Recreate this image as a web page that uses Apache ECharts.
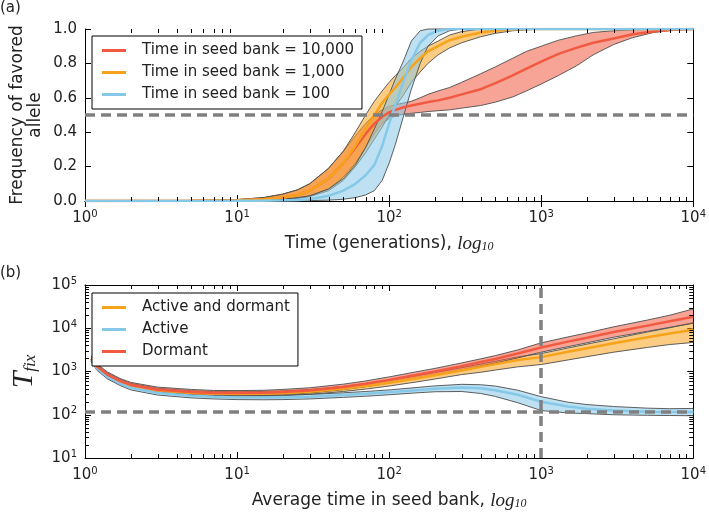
<!DOCTYPE html>
<html>
<head>
<meta charset="utf-8">
<script src="https://cdn.jsdelivr.net/npm/echarts@6/dist/echarts.min.js"></script>
<style>
  html, body { margin: 0; padding: 0; background: #fff; }
  #main { width: 709px; height: 513px; }
</style>
</head>
<body>
<div id="main"></div>
<script>
// ---- panel (a): frequency of favored allele vs time ----
const topX = [1, 5, 10, 15, 20, 25, 30, 40, 50, 60, 70, 80, 90, 100, 110, 125, 140, 160, 180, 210, 250, 300, 400, 500, 650, 800, 1000, 1300, 1700, 2200, 3000, 4000, 5500, 7500, 10000];

const bank10kMid = [0, 0.001, 0.004, 0.01, 0.02, 0.035, 0.06, 0.13, 0.22, 0.31, 0.39, 0.45, 0.49, 0.515, 0.53, 0.545, 0.555, 0.565, 0.575, 0.585, 0.6, 0.62, 0.65, 0.685, 0.73, 0.77, 0.81, 0.855, 0.89, 0.92, 0.945, 0.97, 0.985, 0.995, 1];
const bank10kHigh = [0, 0.002, 0.008, 0.02, 0.04, 0.065, 0.1, 0.19, 0.29, 0.38, 0.45, 0.5, 0.53, 0.55, 0.56, 0.57, 0.58, 0.6, 0.62, 0.64, 0.66, 0.69, 0.74, 0.78, 0.83, 0.87, 0.9, 0.935, 0.96, 0.98, 0.99, 0.995, 1, 1, 1];
const bank10kLow = [0, 0, 0.001, 0.004, 0.008, 0.015, 0.03, 0.07, 0.14, 0.22, 0.31, 0.39, 0.45, 0.48, 0.495, 0.505, 0.51, 0.515, 0.52, 0.525, 0.53, 0.54, 0.555, 0.575, 0.605, 0.64, 0.68, 0.73, 0.785, 0.85, 0.91, 0.95, 0.98, 0.995, 1];

const bank1kMid = [0, 0.001, 0.004, 0.01, 0.02, 0.035, 0.06, 0.13, 0.22, 0.32, 0.42, 0.5, 0.57, 0.62, 0.66, 0.72, 0.78, 0.83, 0.87, 0.9, 0.935, 0.955, 0.98, 0.99, 0.997, 1, 1, 1, 1, 1, 1, 1, 1, 1, 1];
const bank1kHigh = [0, 0.002, 0.008, 0.02, 0.04, 0.065, 0.1, 0.19, 0.29, 0.4, 0.5, 0.58, 0.64, 0.69, 0.73, 0.78, 0.83, 0.87, 0.9, 0.93, 0.965, 0.985, 1, 1, 1, 1, 1, 1, 1, 1, 1, 1, 1, 1, 1];
const bank1kLow = [0, 0, 0.001, 0.004, 0.008, 0.015, 0.025, 0.06, 0.12, 0.2, 0.28, 0.36, 0.43, 0.5, 0.55, 0.62, 0.69, 0.75, 0.8, 0.85, 0.89, 0.92, 0.955, 0.975, 0.99, 0.995, 1, 1, 1, 1, 1, 1, 1, 1, 1];

const bank100Mid = [0, 0, 0.001, 0.002, 0.004, 0.006, 0.01, 0.03, 0.06, 0.1, 0.15, 0.21, 0.32, 0.45, 0.56, 0.7, 0.82, 0.92, 0.965, 0.99, 1, 1, 1, 1, 1, 1, 1, 1, 1, 1, 1, 1, 1, 1, 1];
const bank100High = [0, 0.001, 0.003, 0.006, 0.01, 0.02, 0.03, 0.07, 0.13, 0.21, 0.31, 0.42, 0.52, 0.62, 0.71, 0.82, 0.93, 0.99, 1, 1, 1, 1, 1, 1, 1, 1, 1, 1, 1, 1, 1, 1, 1, 1, 1];
const bank100Low = [0, 0, 0, 0, 0, 0.001, 0.002, 0.005, 0.01, 0.02, 0.035, 0.06, 0.12, 0.22, 0.33, 0.5, 0.65, 0.8, 0.9, 0.96, 0.99, 1, 1, 1, 1, 1, 1, 1, 1, 1, 1, 1, 1, 1, 1];

const topNames = ["Time in seed bank = 10,000", "Time in seed bank = 1,000", "Time in seed bank = 100"];
const topRefY = 0.5;

// ---- panel (b): T_fix vs average time in seed bank ----
const botX = [1.1, 1.2, 1.4, 1.7, 2, 3, 5, 7, 10, 15, 20, 30, 50, 70, 100, 150, 200, 300, 400, 500, 700, 1000, 1500, 2000, 3000, 5000, 7000, 10000];

const bothMid = [1950, 1260, 820, 580, 470, 365, 320, 305, 302, 305, 315, 340, 400, 460, 550, 690, 820, 1060, 1280, 1480, 1850, 2150, 2850, 3450, 4500, 6200, 7600, 9200];
const bothHigh = [2200, 1420, 925, 655, 530, 410, 360, 343, 340, 345, 356, 385, 455, 525, 630, 795, 950, 1230, 1490, 1730, 2180, 2600, 3500, 4300, 5700, 8200, 10300, 13500];
const bothLow = [1720, 1110, 720, 510, 413, 320, 280, 268, 265, 267, 275, 297, 345, 392, 462, 570, 670, 850, 960, 1080, 1280, 1450, 1850, 2200, 2800, 3600, 4200, 4700];

const activeMid = [1850, 1180, 760, 530, 420, 320, 275, 260, 252, 250, 252, 262, 285, 305, 330, 370, 400, 425, 410, 370, 290, 200, 155, 138, 126, 118, 116, 115];
const activeHigh = [2050, 1310, 845, 590, 468, 357, 307, 290, 282, 280, 283, 295, 322, 345, 375, 425, 465, 505, 495, 460, 370, 262, 195, 172, 155, 142, 138, 140];
const activeLow = [1670, 1060, 680, 475, 375, 285, 245, 232, 224, 222, 224, 232, 252, 268, 290, 320, 340, 345, 310, 265, 190, 125, 110, 106, 100, 97, 96, 95];

const dormantMid = [2000, 1300, 850, 600, 490, 380, 335, 320, 318, 322, 335, 365, 440, 520, 640, 830, 1000, 1330, 1650, 1950, 2600, 3600, 4900, 6000, 8200, 11500, 14500, 18500];
const dormantHigh = [2300, 1500, 980, 690, 560, 435, 385, 365, 362, 368, 385, 420, 510, 605, 750, 980, 1180, 1580, 1960, 2330, 3150, 4600, 6300, 7800, 10800, 15500, 20000, 28000];
const dormantLow = [1750, 1130, 740, 520, 425, 330, 292, 280, 278, 282, 292, 318, 380, 445, 540, 690, 820, 1080, 1330, 1560, 2060, 2800, 3750, 4600, 6200, 8500, 10500, 13000];

const botNames = ["Active and dormant", "Active", "Dormant"];
const botRefY = 115;
const botRefX = 1000;

// minor tick positions of the log axes (2..9 in each decade)
const xMinorTicks = [2, 3, 4, 5, 6, 7, 8, 9, 20, 30, 40, 50, 60, 70, 80, 90, 200, 300, 400, 500, 600, 700, 800, 900, 2000, 3000, 4000, 5000, 6000, 7000, 8000, 9000];
const yMinorTicks = [20, 30, 40, 50, 60, 70, 80, 90, 200, 300, 400, 500, 600, 700, 800, 900, 2000, 3000, 4000, 5000, 6000, 7000, 8000, 9000, 20000, 30000, 40000, 50000, 60000, 70000, 80000, 90000];

const RED = "#f15a40";
const ORANGE = "#f7a21b";
const BLUE = "#86c8e8";
const EDGE = "#4d4d4d";
const FONT = "DejaVu Sans";

const chart = echarts.init(document.getElementById("main"), null, { renderer: "canvas" });

// shaded band (fill + thin dark edges) drawn as one polygon through the axes' scales
const band = (name, xs, lo, mid, hi, color, axis, refLine) => {
  const fill = {
    type: "custom",
    xAxisIndex: axis,
    yAxisIndex: axis,
    silent: true,
    data: [[xs[0], lo[0]]],
    renderItem: (params, api) => {
      const up = xs.map((x, i) => api.coord([x, hi[i]]));
      const down = xs.map((x, i) => api.coord([x, lo[i]]));
      return {
        type: "group",
        children: [
          { type: "polygon", shape: { points: up.concat(down.slice().reverse()) }, style: { fill: color, opacity: 0.55 } },
          { type: "polyline", shape: { points: up }, style: { stroke: EDGE, lineWidth: 0.9, fill: null } },
          { type: "polyline", shape: { points: down }, style: { stroke: EDGE, lineWidth: 0.9, fill: null } },
        ],
      };
    },
  };
  const line = {
    name: name,
    type: "line",
    xAxisIndex: axis,
    yAxisIndex: axis,
    showSymbol: false,
    symbol: "none",
    lineStyle: { color: color, width: 2.5 },
    itemStyle: { color: color },
    data: xs.map((x, i) => [x, mid[i]]),
  };
  if (refLine) {
    line.markLine = {
      silent: true,
      symbol: "none",
      label: { show: false },
      lineStyle: { color: "#808080", type: [10, 6], width: 3.5 },
      data: refLine,
    };
  }
  return [fill, line];
};

// small inside ticks on both edges of the plot for the log axes
const minorX = (axis, yAny) => ({
  type: "custom",
  xAxisIndex: axis,
  yAxisIndex: axis,
  silent: true,
  clip: false,
  z: 5,
  data: xMinorTicks.map((v) => [v, yAny]),
  renderItem: (params, api) => {
    const cs = params.coordSys;
    const px = Math.round(api.coord([api.value(0), api.value(1)])[0]) + 0.5;
    const b = cs.y + cs.height;
    return {
      type: "group",
      children: [
        { type: "line", shape: { x1: px, y1: b, x2: px, y2: b - 4 }, style: { stroke: "#000", lineWidth: 1 } },
        { type: "line", shape: { x1: px, y1: cs.y, x2: px, y2: cs.y + 4 }, style: { stroke: "#000", lineWidth: 1 } },
      ],
    };
  },
});

const minorY = (axis, xAny) => ({
  type: "custom",
  xAxisIndex: axis,
  yAxisIndex: axis,
  silent: true,
  clip: false,
  z: 5,
  data: yMinorTicks.map((v) => [xAny, v]),
  renderItem: (params, api) => {
    const cs = params.coordSys;
    const py = Math.round(api.coord([api.value(0), api.value(1)])[1]) + 0.5;
    const r = cs.x + cs.width;
    return {
      type: "group",
      children: [
        { type: "line", shape: { x1: cs.x, y1: py, x2: cs.x + 4, y2: py }, style: { stroke: "#000", lineWidth: 1 } },
        { type: "line", shape: { x1: r, y1: py, x2: r - 4, y2: py }, style: { stroke: "#000", lineWidth: 1 } },
      ],
    };
  },
});

const supLabel = (v) => "10{s|" + Math.round(Math.log10(v)) + "}";
const labelRich = {
  s: { fontSize: 10, fontFamily: FONT, color: "#222", verticalAlign: "top", lineHeight: 10 },
};

const logX = (grid, pos, showLabel) => ({
  type: "log",
  logBase: 10,
  gridIndex: grid,
  position: pos,
  min: 1,
  max: 10000,
  axisLine: { show: true, lineStyle: { color: "#000", width: 1 } },
  axisTick: { show: true, inside: true, length: 6, lineStyle: { color: "#000" } },
  splitLine: { show: false },
  axisLabel: {
    show: showLabel,
    formatter: supLabel,
    fontSize: 15,
    fontFamily: FONT,
    color: "#222",
    margin: 8,
    lineHeight: 18,
    rich: labelRich,
  },
});

const xNameStyle = {
  fontSize: 17,
  fontFamily: FONT,
  color: "#222",
  rich: {
    m: { fontSize: 19, fontFamily: "Liberation Serif", fontStyle: "italic", color: "#222" },
    s: { fontSize: 12, fontFamily: "Liberation Serif", fontStyle: "italic", color: "#222", verticalAlign: "bottom", lineHeight: 12 },
  },
};

const xTop = logX(0, "bottom", true);
xTop.name = "Time (generations), {m|log}{s|10}";
xTop.nameLocation = "middle";
xTop.nameGap = 33;
xTop.nameTextStyle = xNameStyle;

const xBot = logX(1, "bottom", true);
xBot.name = "Average time in seed bank, {m|log}{s|10}";
xBot.nameLocation = "middle";
xBot.nameGap = 33;
xBot.nameTextStyle = xNameStyle;

const freqY = (pos, showLabel) => ({
  type: "value",
  gridIndex: 0,
  position: pos,
  min: 0,
  max: 1,
  interval: 0.2,
  axisLine: { show: true, lineStyle: { color: "#000", width: 1 } },
  axisTick: { show: true, inside: true, length: 6, lineStyle: { color: "#000" } },
  splitLine: { show: false },
  axisLabel: {
    show: showLabel,
    formatter: (v) => v.toFixed(1),
    fontSize: 15,
    fontFamily: FONT,
    color: "#222",
    margin: 8,
  },
});

const tfixY = (pos, showLabel) => ({
  type: "log",
  logBase: 10,
  gridIndex: 1,
  position: pos,
  min: 10,
  max: 100000,
  axisLine: { show: true, lineStyle: { color: "#000", width: 1 } },
  axisTick: { show: true, inside: true, length: 6, lineStyle: { color: "#000" } },
  splitLine: { show: false },
  axisLabel: {
    show: showLabel,
    formatter: supLabel,
    fontSize: 15,
    fontFamily: FONT,
    color: "#222",
    margin: 8,
    lineHeight: 18,
    rich: labelRich,
  },
});

const yTop = freqY("left", true);
yTop.name = "Frequency of favored\nallele";
yTop.nameLocation = "middle";
yTop.nameGap = 40;
yTop.nameMoveOverlap = false;
yTop.nameTextStyle = { fontSize: 17, fontFamily: FONT, color: "#222", lineHeight: 18 };

const yBot = tfixY("left", true);
yBot.name = "{t|T}{f|fix}";
yBot.nameLocation = "middle";
yBot.nameGap = 46;
yBot.nameTextStyle = {
  rich: {
    t: { fontSize: 30, fontFamily: "Liberation Serif", fontStyle: "italic", color: "#222" },
    f: { fontSize: 17, fontFamily: "Liberation Serif", fontStyle: "italic", color: "#222", verticalAlign: "bottom", lineHeight: 16 },
  },
};

const legendBox = (names, top) => ({
  data: names,
  orient: "vertical",
  left: 92,
  top: top,
  icon: "rect",
  itemWidth: 24,
  itemHeight: 3,
  itemGap: 5,
  padding: [6, 8, 6, 10],
  backgroundColor: "#fff",
  borderColor: "#000",
  borderWidth: 1,
  borderRadius: 0,
  textStyle: { fontSize: 15, fontFamily: FONT, color: "#222", padding: [0, 0, 0, 11], lineHeight: 17 },
});

const option = {
  animation: false,
  backgroundColor: "#fff",
  grid: [
    { left: 85, right: 14, top: 29, height: 172 },
    { left: 85, right: 14, top: 285, height: 173 },
  ],
  xAxis: [xTop, logX(0, "top", false), xBot, logX(1, "top", false)],
  yAxis: [yTop, freqY("right", false), yBot, tfixY("right", false)],
  legend: [legendBox(topNames, 36), legendBox(botNames, 293)],
  graphic: [
    { type: "text", left: 0, top: 1, style: { text: "(a)", fontSize: 15, fontFamily: FONT, fill: "#222" } },
    { type: "text", left: 0, top: 266, style: { text: "(b)", fontSize: 15, fontFamily: FONT, fill: "#222" } },
  ],
  series: [
    ...band(topNames[0], topX, bank10kLow, bank10kMid, bank10kHigh, RED, 0, [{ yAxis: topRefY }]),
    ...band(topNames[1], topX, bank1kLow, bank1kMid, bank1kHigh, ORANGE, 0, null),
    ...band(topNames[2], topX, bank100Low, bank100Mid, bank100High, BLUE, 0, null),
    ...band(botNames[0], botX, bothLow, bothMid, bothHigh, ORANGE, 2, [{ yAxis: botRefY }, { xAxis: botRefX }]),
    ...band(botNames[1], botX, activeLow, activeMid, activeHigh, BLUE, 2, null),
    ...band(botNames[2], botX, dormantLow, dormantMid, dormantHigh, RED, 2, null),
    minorX(0, 0.5),
    minorX(2, 1000),
    minorY(2, 100),
  ],
};

chart.setOption(option);
</script>
</body>
</html>
